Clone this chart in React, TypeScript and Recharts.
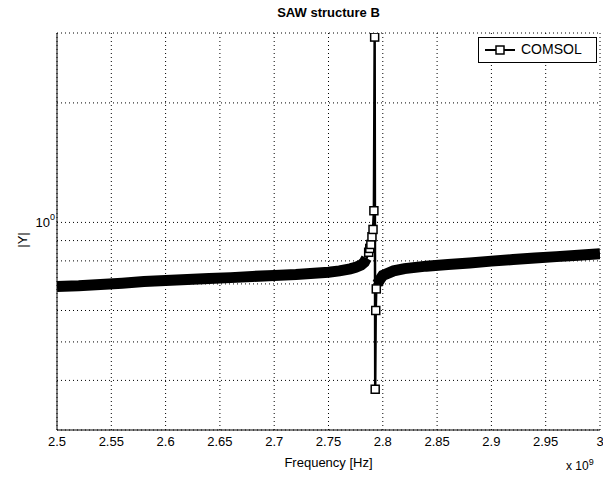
import { ComposedChart, Line, XAxis, YAxis, CartesianGrid, Legend } from "recharts";

// frequency in Hz, |Y| (log scale)
const freqs = [
  2.5e9, 2.52e9, 2.54e9, 2.56e9, 2.58e9, 2.6e9, 2.62e9, 2.64e9, 2.66e9, 2.68e9,
  2.7e9, 2.72e9, 2.74e9, 2.75e9, 2.76e9, 2.77e9, 2.775e9, 2.78e9, 2.783e9, 2.785e9,
  2.787e9, 2.788e9, 2.789e9, 2.79e9, 2.791e9, 2.7918e9, 2.7925e9, 2.793e9, 2.7935e9, 2.794e9,
  2.795e9, 2.797e9, 2.8e9, 2.81e9, 2.82e9, 2.84e9, 2.86e9, 2.88e9, 2.9e9, 2.92e9,
  2.94e9, 2.96e9, 2.98e9, 3.0e9,
];
const magY = [
  0.69, 0.693, 0.698, 0.703, 0.71, 0.714, 0.718, 0.722, 0.726, 0.731,
  0.735, 0.739, 0.746, 0.749, 0.755, 0.764, 0.771, 0.781, 0.794, 0.813,
  0.841, 0.86, 0.88, 0.92, 0.96, 1.07, 2.93, 0.38, 0.6, 0.68,
  0.7, 0.715, 0.735, 0.755, 0.765, 0.776, 0.783, 0.79, 0.799, 0.806,
  0.813, 0.82, 0.827, 0.834,
];
const xTicks = [2.5e9, 2.55e9, 2.6e9, 2.65e9, 2.7e9, 2.75e9, 2.8e9, 2.85e9, 2.9e9, 2.95e9, 3e9];
const yTicks = [0.3, 0.4, 0.5, 0.6, 0.7, 0.8, 0.9, 1, 2, 3];

const data = freqs.map((f, i) => ({ f, y: magY[i] }));
// the dense sweep away from resonance shows as a solid black band of markers
const bandLeft = data.filter((d) => d.f <= 2.786e9);
const bandRight = data.filter((d) => d.f >= 2.7948e9);

const font = "'Liberation Sans', Arial, sans-serif";

const SquareDot = (props: any) => {
  const { cx, cy, payload, key } = props;
  // markers inside the band are hidden by it anyway
  if (payload.f <= 2.786e9 || payload.f >= 2.7948e9) return <g key={key} />;
  return <rect key={key} x={cx - 4} y={cy - 4} width={8} height={8} fill="#fff" stroke="#000" strokeWidth={1.5} />;
};

const NoLabel = () => <g />;

const XTick = ({ x, y, payload }: any) => (
  <text x={x} y={y + 8} textAnchor="middle" fontSize={13} fill="#000" fontFamily={font}>
    {+(payload.value / 1e9).toFixed(2)}
  </text>
);

const YTick = ({ x, y, payload }: any) => {
  if (payload.value !== 1) return <g />;
  return (
    <text x={x + 6} y={y + 5} textAnchor="end" fontSize={13} fill="#000" fontFamily={font}>
      10<tspan dy={-7} fontSize={9}>0</tspan>
    </text>
  );
};

const LegendBox = () => (
  <div style={{ width: 117, height: 24, border: "1px solid #000", background: "#fff", position: "relative", fontFamily: font }}>
    <svg width={34} height={24} style={{ position: "absolute", left: 5, top: 0 }}>
      <line x1={1} y1={12} x2={31} y2={12} stroke="#000" strokeWidth={2} />
      <rect x={12} y={8} width={8} height={8} fill="#fff" stroke="#000" strokeWidth={1.5} />
    </svg>
    <span style={{ position: "absolute", left: 42, top: 3, fontSize: 14, color: "#000" }}>COMSOL</span>
  </div>
);

export default function App() {
  return (
    <div style={{ position: "absolute", left: 0, top: 0, width: 603, height: 479, background: "#fff" }}>
      <div style={{ position: "absolute", left: 57, width: 543, top: 5, textAlign: "center", fontFamily: font, fontSize: 13, fontWeight: "bold", color: "#000" }}>
        SAW structure B
      </div>
      <div style={{ position: "absolute", left: 566, top: 457, fontFamily: font, fontSize: 12, color: "#000" }}>
        x 10<sup style={{ fontSize: 9 }}>9</sup>
      </div>
      <div style={{ position: "absolute", left: 22, top: 240, transform: "translate(-50%, -50%) rotate(-90deg)", fontFamily: font, fontSize: 13, color: "#000", whiteSpace: "nowrap" }}>
        |Y|
      </div>
      <ComposedChart width={603} height={479} margin={{ top: 33, right: 3, bottom: 0, left: 0 }}>
        <CartesianGrid stroke="#000" strokeDasharray="1 3" />
        {/* inner tick marks, MATLAB style */}
        <XAxis xAxisId="bt" orientation="bottom" mirror type="number" domain={[2.5e9, 3e9]} ticks={xTicks} interval={0} height={0} tick={NoLabel} tickSize={5} tickLine={{ stroke: "#000" }} axisLine={false} allowDataOverflow />
        <XAxis
          dataKey="f"
          type="number"
          scale="linear"
          domain={[2.5e9, 3e9]}
          ticks={xTicks}
          interval={0}
          allowDataOverflow
          height={49}
          tick={<XTick />}
          tickLine={false}
          axisLine={{ stroke: "#000" }}
          label={{ value: "Frequency [Hz]", position: "insideBottom", offset: 12, fontSize: 13, fill: "#000", fontFamily: font }}
        />
        <XAxis xAxisId="top" orientation="top" mirror type="number" domain={[2.5e9, 3e9]} ticks={xTicks} interval={0} height={0} tick={NoLabel} tickSize={5} tickLine={{ stroke: "#000" }} axisLine={{ stroke: "#000" }} allowDataOverflow />
        <YAxis yAxisId="lt" orientation="left" mirror type="number" scale="log" domain={[0.3, 3]} ticks={yTicks} interval={0} width={0} tick={NoLabel} tickSize={5} tickLine={{ stroke: "#000" }} axisLine={false} allowDataOverflow />
        <YAxis
          type="number"
          scale="log"
          domain={[0.3, 3]}
          ticks={yTicks}
          interval={0}
          allowDataOverflow
          width={57}
          tick={<YTick />}
          tickLine={false}
          axisLine={{ stroke: "#000" }}
        />
        <YAxis yAxisId="right" orientation="right" mirror type="number" scale="log" domain={[0.3, 3]} ticks={yTicks} interval={0} width={0} tick={NoLabel} tickSize={5} tickLine={{ stroke: "#000" }} axisLine={{ stroke: "#000" }} allowDataOverflow />
        <Legend
          layout="horizontal"
          verticalAlign="middle"
          content={<LegendBox />}
          wrapperStyle={{ position: "absolute", left: 478, top: 37, width: 119, height: 26 }}
        />
        <Line
          data={data}
          dataKey="y"
          name="COMSOL"
          stroke="#000"
          strokeWidth={2.5}
          dot={SquareDot}
          isAnimationActive={false}
        />
        <Line data={bandLeft} dataKey="y" stroke="#000" strokeWidth={11} dot={false} legendType="none" isAnimationActive={false} />
        <Line data={bandRight} dataKey="y" stroke="#000" strokeWidth={11} dot={false} legendType="none" isAnimationActive={false} />
      </ComposedChart>
    </div>
  );
}
